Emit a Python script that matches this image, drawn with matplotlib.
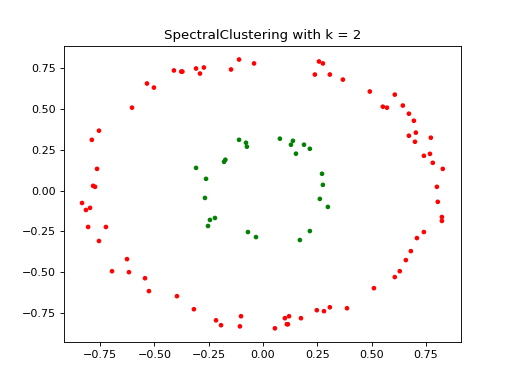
import matplotlib
matplotlib.use('Agg')

import numpy as np
import matplotlib.pyplot as plt

# outer ring (cluster 0)
outer_x = [-0.788, -0.755, -0.764, -0.782, -0.773, -0.603, -0.534, -0.502, -0.410, -0.376,
           -0.371, -0.308, -0.290, -0.272, -0.147, -0.110, -0.041, 0.258, 0.276, 0.239,
           0.308, 0.368, 0.492, 0.607, 0.552, 0.571, 0.644, 0.672, 0.695, 0.704,
           0.672, 0.700, 0.773, 0.741, 0.769, 0.782, 0.828, 0.801, -0.833, -0.815,
           -0.796, -0.805, -0.723, -0.755, -0.626, -0.695, -0.617, -0.543, -0.525, -0.396,
           -0.318, -0.216, -0.193, -0.101, -0.106, 0.805, 0.824, 0.824, 0.741, 0.709,
           0.681, 0.658, 0.630, 0.607, 0.511, 0.387, 0.308, 0.281, 0.248, 0.175,
           0.120, 0.101, 0.110, 0.115, 0.055]
outer_y = [0.311, 0.367, 0.133, 0.029, 0.023, 0.508, 0.656, 0.631, 0.736, 0.729,
           0.729, 0.748, 0.717, 0.754, 0.742, 0.803, 0.779, 0.791, 0.779, 0.711,
           0.711, 0.680, 0.607, 0.588, 0.514, 0.508, 0.521, 0.471, 0.428, 0.355,
           0.336, 0.299, 0.324, 0.213, 0.225, 0.170, 0.133, 0.023, -0.076, -0.119,
           -0.106, -0.223, -0.223, -0.309, -0.420, -0.494, -0.500, -0.537, -0.616, -0.647,
           -0.727, -0.795, -0.825, -0.770, -0.832, -0.069, -0.162, -0.186, -0.254, -0.291,
           -0.371, -0.426, -0.494, -0.530, -0.598, -0.721, -0.715, -0.739, -0.733, -0.782,
           -0.770, -0.782, -0.819, -0.819, -0.844]

# inner ring (cluster 1)
inner_x = [-0.308, -0.262, -0.267, -0.179, -0.173, -0.110, -0.078, -0.074, 0.078, 0.138,
           0.129, 0.189, 0.152, 0.216, 0.272, 0.276, 0.262, -0.244, -0.221, -0.253,
           -0.069, -0.032, 0.299, 0.216, 0.170]
inner_y = [0.139, 0.072, -0.045, 0.176, 0.189, 0.311, 0.293, 0.269, 0.318, 0.305,
           0.281, 0.281, 0.226, 0.256, 0.103, 0.035, -0.051, -0.180, -0.168, -0.217,
           -0.254, -0.285, -0.100, -0.248, -0.303]

X = np.array(list(zip(outer_x + inner_x, outer_y + inner_y)))
labels = np.array([0] * len(outer_x) + [1] * len(inner_x))
colors = np.array(['red', 'green'])[labels]

fig, ax = plt.subplots(figsize=(6.4, 4.8), dpi=80)
ax.scatter(X[:, 0], X[:, 1], c=colors, s=10)
ax.set_title("SpectralClustering with k = 2")

fig.savefig('out.png', dpi=80)
plt.close(fig)
